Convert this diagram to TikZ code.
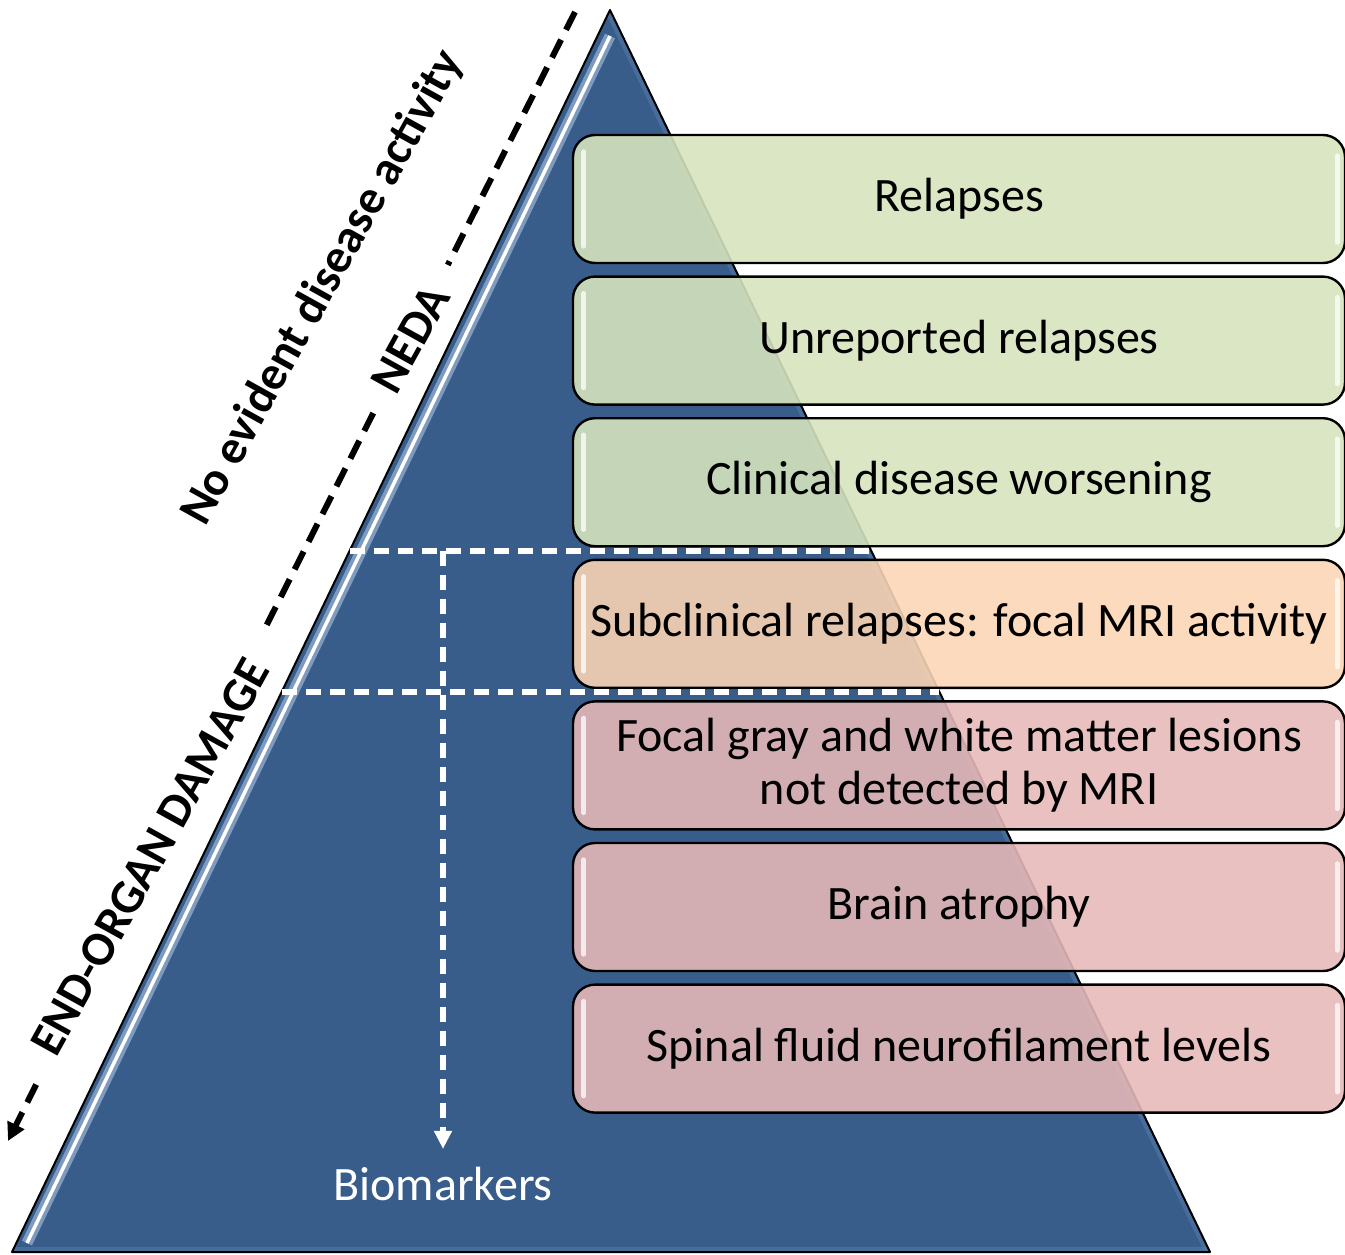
\documentclass[tikz,border=0pt]{standalone}
\usepackage{fontspec}
\setmainfont{Carlito}
\usetikzlibrary{arrows.meta}
\definecolor{pyr}{HTML}{385D8A}
\definecolor{pyrlight}{HTML}{9DB6D6}
\definecolor{pyrmid}{HTML}{5479A6}
\definecolor{boxgreen}{HTML}{D7E4BD}
\definecolor{boxorange}{HTML}{FBD5B5}
\definecolor{boxpink}{HTML}{E6B9B8}
\tikzset{
  layerbox/.style={draw=black, line width=2.4pt, rounded corners=22pt,
    minimum width=772pt, minimum height=128pt, inner sep=0pt,
    fill opacity=0.89, draw opacity=1, text opacity=1, align=center,
    font=\fontsize{48}{53}\selectfont},
  whitedash/.style={white, line width=5.5pt, dash pattern=on 15pt off 9pt},
  blackdash/.style={black, line width=6pt, dash pattern=on 20pt off 11pt},
  sidelabel/.style={font=\fontsize{48}{52}\bfseries\selectfont, rotate=61, inner ysep=4pt},
  boxglint/.style={white, line width=5pt, line cap=round, opacity=0.75}
}
\begin{document}
\begin{tikzpicture}[x=1pt,y=-1pt]
\useasboundingbox (0,0) rectangle (1345,1255);
% pyramid
\coordinate (apex) at (610,10);
\coordinate (bl) at (12,1252);
\coordinate (br) at (1210,1252);
\fill[pyr] (apex) -- (bl) -- (br) -- cycle;
\begin{scope}
  \clip (apex) -- (bl) -- (br) -- cycle;
  \draw[pyrmid, line width=16pt, opacity=0.6] (614,12) -- (1216,1258);
  \draw[pyrmid, line width=10pt, opacity=0.6] (0,1252) -- (1300,1252);
  \draw[pyrlight, line width=11pt, opacity=0.7] (610,36) -- (27,1243);
  \draw[white, line width=3.5pt] (610,36) -- (27,1243);
\end{scope}
\draw[black, line width=2pt, line join=round] (apex) -- (bl) -- (br) -- cycle;

% layer boxes
\node[layerbox, fill=boxgreen]  (b1) at (959,199)    {Relapses};
\node[layerbox, fill=boxgreen]  (b2) at (959,340.6)  {Unreported relapses};
\node[layerbox, fill=boxgreen]  (b3) at (959,482.2)  {Clinical disease worsening};
\node[layerbox, fill=boxorange] (b4) at (959,623.8)  {Subclinical relapses: focal MRI activity};
\node[layerbox, fill=boxpink]   (b5) at (959,765.4)  {Focal gray and white matter lesions\\not detected by MRI};
\node[layerbox, fill=boxpink]   (b6) at (959,907)    {Brain atrophy};
\node[layerbox, fill=boxpink]   (b7) at (959,1048.6) {Spinal fluid neurofilament levels};
\foreach \b in {b1,b2,b3,b4,b5,b6,b7}{
  \draw[boxglint] ([xshift=12pt,yshift=-18pt]\b.north west) -- ([xshift=12pt,yshift=18pt]\b.south west);
  \draw[boxglint] ([xshift=-9pt,yshift=-22pt]\b.north east) -- ([xshift=-9pt,yshift=22pt]\b.south east);
}

% white dashed biomarker lines
\coordinate (h1l) at (350,551);
\coordinate (h1r) at (871,551);
\coordinate (h2l) at (282,692);
\coordinate (h2r) at (939,692);
\draw[whitedash] (h1l) -- (h1r);
\draw[whitedash] (h2l) -- (h2r);
\node[white, font=\fontsize{48}{53}\selectfont, inner sep=0pt] (bio) at (443,1184) {Biomarkers};
\coordinate (vtop) at (443,551);
\draw[whitedash, -{Triangle[length=18pt,width=17pt]}] (vtop) -- ([yshift=18pt]bio.north);

% side labels and black dashed line
\node[sidelabel, inner xsep=26pt] (neda) at (410.5,339) {NEDA};
\node[sidelabel, inner xsep=32pt] (eod) at (150,857) {END-ORGAN DAMAGE};
\node[sidelabel, inner sep=0pt] (nedtext) at (323,288) {No evident disease activity};
\coordinate (dtop) at (575,12);
\coordinate (dend) at (8,1141);
\draw[blackdash] (dtop) -- (neda);
\draw[blackdash] (neda) -- (eod);
\draw[blackdash, -{Triangle[length=18pt,width=18pt]}] (eod) -- (dend);
\end{tikzpicture}
\end{document}
